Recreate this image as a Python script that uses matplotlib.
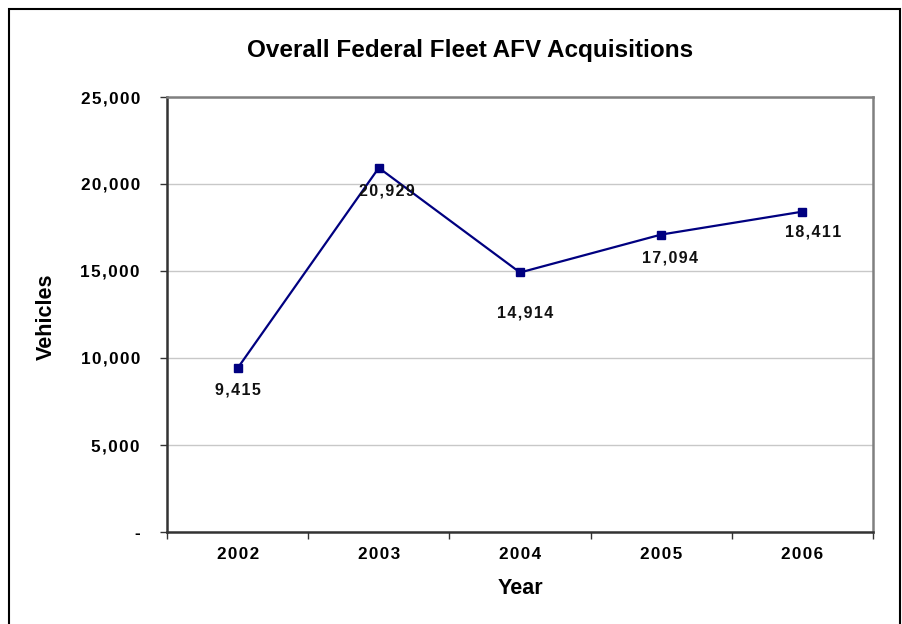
import numpy as np
import matplotlib.pyplot as plt
from matplotlib.patches import Rectangle
from matplotlib.ticker import FuncFormatter, FixedLocator

plt.rcParams['font.family'] = ['Liberation Sans', 'DejaVu Sans']

years = ['2002', '2003', '2004', '2005', '2006']
vehicles = [9415, 20929, 14914, 17094, 18411]
yticks = [0, 5000, 10000, 15000, 20000, 25000]

# label offsets (points) below each marker
lab_dx = [0, 6, 4, 6, 8]
lab_dy = [-16, -17, -29, -17, -15]


def spaced(s, sep='\u200a'):
    return sep.join(s)


def yfmt(v, pos):
    if v == 0:
        return '-'
    return spaced(f'{int(v):,}')


fig = plt.figure(figsize=(9.02, 6.24), dpi=100)
ax = fig.add_axes([167 / 902, 92 / 624, 706 / 902, 435 / 624])

x = np.arange(len(years))
ax.plot(x, vehicles, color='#000080', lw=1.6, marker='s', ms=5.5,
        markerfacecolor='#000080', markeredgecolor='#000080', zorder=3)

for i, v in enumerate(vehicles):
    ax.annotate(spaced(f'{v:,}'), (x[i], v), xytext=(lab_dx[i], lab_dy[i]),
                textcoords='offset points', ha='center', va='center',
                fontsize=11.5, fontweight='bold', color='#111111')

ax.set_xlim(-0.5, len(years) - 0.5)
ax.set_ylim(0, 25000)
ax.set_yticks(yticks)
ax.yaxis.set_major_formatter(FuncFormatter(yfmt))
ax.yaxis.grid(True, color='#c8c8c8', lw=1)
ax.set_axisbelow(True)

# category ticks between groups, labels centered
ax.xaxis.set_major_locator(FixedLocator(np.arange(len(years) + 1) - 0.5))
ax.xaxis.set_minor_locator(FixedLocator(x))
ax.set_xticklabels([])
ax.set_xticklabels([spaced(y) for y in years], minor=True)
ax.tick_params(axis='x', which='major', length=5, width=1, color='#333333', direction='out')
ax.tick_params(axis='x', which='minor', length=0, pad=11, labelsize=12.3)
ax.tick_params(axis='y', length=5, width=1, color='#333333', pad=14.5, labelsize=12.3)
for lab in ax.get_xticklabels(minor=True) + ax.get_yticklabels():
    lab.set_fontweight('bold')

for s in ['left', 'bottom']:
    ax.spines[s].set_color('#333333')
    ax.spines[s].set_linewidth(1.8)
for s in ['top', 'right']:
    ax.spines[s].set_color('#808080')
    ax.spines[s].set_linewidth(1.8)

fig.text(470 / 902, 1 - 50 / 624, 'Overall Federal Fleet AFV Acquisitions',
         ha='center', va='center', fontsize=17.5, fontweight='bold')
fig.text(520 / 902, 1 - 589 / 624, 'Year', ha='center', va='center',
         fontsize=15.5, fontweight='bold')
fig.text(46 / 902, 1 - 317 / 624, 'Vehicles', ha='center', va='center',
         fontsize=15.5, fontweight='bold', rotation=90)

fig.patches.append(Rectangle((8.5 / 902, -0.05), 891 / 902, 1.05 - 8.5 / 624,
                             transform=fig.transFigure, fill=False,
                             edgecolor='black', lw=1.5))

fig.savefig('out.png', dpi=100)
